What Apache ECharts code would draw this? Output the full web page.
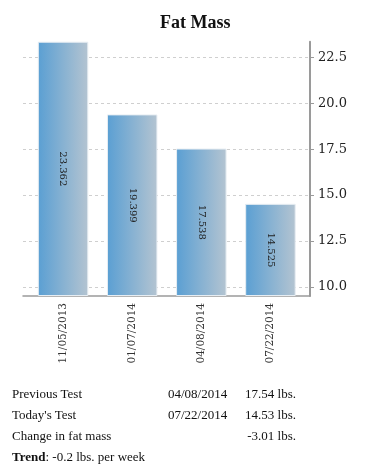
<!DOCTYPE html>
<html>
<head>
<meta charset="utf-8">
<script src="https://cdn.jsdelivr.net/npm/echarts@6/dist/echarts.min.js"></script>
<style>
  html, body { margin: 0; padding: 0; background: #fff; }
  #wrap { position: relative; width: 372px; height: 475px; }
  #chart { position: absolute; left: 0; top: 0; width: 372px; height: 475px; }
  .t { position: absolute; font-family: "Liberation Serif", serif; font-size: 13px; line-height: 16px; color: #111; white-space: nowrap; }
</style>
</head>
<body>
<div id="wrap">
  <div id="chart"></div>
  <div id="table"></div>
</div>
<script>
// ---- data ----
const chartTitle = 'Fat Mass';
const categories = ['11/05/2013', '01/07/2014', '04/08/2014', '07/22/2014'];
const fatMass = [23.362, 19.399, 17.538, 14.525];
const yTicks = [10, 12.5, 15, 17.5, 20, 22.5];
const yMin = 9.5;
const yMax = 23.362;

const rowLabels = ['Previous Test', "Today's Test", 'Change in fat mass'];
const rowDates = ['04/08/2014', '07/22/2014', ''];
const rowValues = ['17.54 lbs.', '14.53 lbs.', '-3.01 lbs.'];
const trendLabel = 'Trend';
const trendText = ': -0.2 lbs. per week';

// ---- chart ----
const chart = echarts.init(document.getElementById('chart'));
const serif = 'DejaVu Serif';
const gridTop = 41.7, gridBottom = 475 - 296;

chart.setOption({
  animation: false,
  title: {
    text: chartTitle,
    left: 155, top: 9,
    textStyle: { fontFamily: 'Liberation Serif', fontWeight: 'bold', fontSize: 18, color: '#111' }
  },
  grid: [
    { left: 28.5, right: 67, top: gridTop, bottom: gridBottom, containLabel: false },
    { left: 23, right: 62, top: gridTop, bottom: gridBottom, containLabel: false }
  ],
  xAxis: [
    {
      gridIndex: 0, type: 'category', data: categories,
      axisLine: { show: false }, axisTick: { show: false },
      axisLabel: { rotate: 90, margin: 7, fontFamily: serif, fontSize: 10.5, color: '#333' }
    },
    {
      gridIndex: 1, type: 'category', data: categories,
      axisLine: { show: true, lineStyle: { color: '#9a9a9a', width: 1.5 } },
      axisTick: { show: false }, axisLabel: { show: false }
    }
  ],
  yAxis: [
    { gridIndex: 0, type: 'value', min: yMin, max: yMax, startValue: yMin, show: false },
    {
      gridIndex: 1, type: 'value', min: yMin, max: yMax, position: 'right',
      axisLine: { show: true, lineStyle: { color: '#9a9a9a', width: 2 } },
      axisTick: { show: true, length: 4, customValues: yTicks, lineStyle: { color: '#9a9a9a' } },
      axisLabel: {
        customValues: yTicks, margin: 8,
        fontFamily: serif, fontSize: 13, color: '#222',
        formatter: v => Number(v).toFixed(1)
      },
      splitLine: { show: true, lineStyle: { color: '#cfcfcf', type: [3, 3], width: 1 } }
    }
  ],
  series: [
    {
      type: 'bar', xAxisIndex: 0, yAxisIndex: 0,
      data: fatMass, barWidth: 50.5,
      itemStyle: {
        color: new echarts.graphic.LinearGradient(0, 0, 1, 0, [
          { offset: 0, color: '#5a9fd3' },
          { offset: 1, color: '#b4c4d1' }
        ]),
        borderColor: '#e8eef3', borderWidth: 1
      },
      label: {
        show: true, position: 'inside', rotate: -90,
        fontFamily: serif, fontSize: 10, color: '#222',
        formatter: p => String(p.value)
      }
    }
  ]
});

// ---- table below chart ----
const table = document.getElementById('table');
const rowCenters = [394.3, 415, 435.7];
function addText(txt, x, yc, opts) {
  const d = document.createElement('div');
  d.className = 't';
  d.style.top = (yc - 8) + 'px';
  if (opts && opts.right != null) { d.style.right = (372 - opts.right) + 'px'; }
  else { d.style.left = x + 'px'; }
  d.textContent = txt;
  table.appendChild(d);
  return d;
}
rowLabels.forEach((lab, i) => {
  addText(lab, 12, rowCenters[i]);
  if (rowDates[i]) addText(rowDates[i], 168, rowCenters[i]);
  addText(rowValues[i], 0, rowCenters[i], { right: 296 });
});
const tr = addText('', 12, 457.3);
const b = document.createElement('b');
b.textContent = trendLabel;
tr.appendChild(b);
tr.appendChild(document.createTextNode(trendText));
</script>
</body>
</html>
